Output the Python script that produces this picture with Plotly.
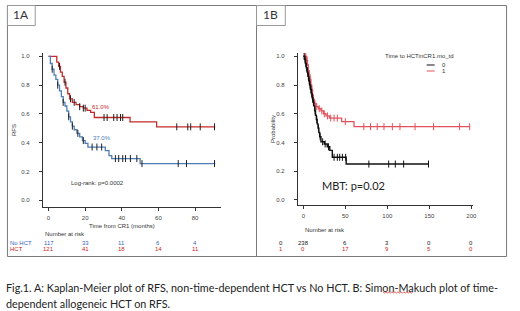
import plotly.graph_objects as go

W, H = 520, 311


def px(x):
    return x / W


def py(y):
    return 1 - y / H


# ---------------- Panel A data (Kaplan-Meier, months from CR1) ----------------
a_hct_t = [0, 4.5, 5.5, 6.5, 7.5, 8.5, 9.5, 10.5, 11.5, 13, 15, 17, 19, 21, 23, 25, 44.5, 59, 91]
a_hct_s = [1.0, 0.96, 0.93, 0.89, 0.86, 0.82, 0.78, 0.74, 0.705, 0.68, 0.665, 0.65, 0.64, 0.625, 0.61, 0.575,
           0.545, 0.51, 0.51]
a_hct_cens = [6, 9, 12, 14, 17, 19, 20, 30.3, 32, 35.6, 37.4, 39.3, 40.5, 70, 76, 77.6, 82.8, 90.6]

a_nohct_t = [0, 1, 2, 3, 4, 5, 6, 7, 8, 9, 10, 11, 12, 13, 14, 15.5, 17, 18.5, 20, 21.5, 31, 33, 34.5, 50, 91]
a_nohct_s = [1.0, 0.95, 0.91, 0.87, 0.84, 0.80, 0.76, 0.72, 0.68, 0.655, 0.62, 0.58, 0.545, 0.515, 0.49, 0.465,
             0.44, 0.415, 0.395, 0.37, 0.345, 0.31, 0.29, 0.255, 0.255]
a_nohct_cens = [2, 5, 8, 11, 13, 16, 19, 23.8, 26.4, 29, 36.5, 38.3, 40.5, 42, 44.7, 48.2, 51, 70.8, 75.3, 90.6]

a_risk_times = [0, 20, 40, 60, 80]
a_risk_nohct = [117, 33, 11, 6, 4]
a_risk_hct = [121, 41, 18, 14, 11]
a_xticks = [0, 20, 40, 60, 80]

# ---------------- Panel B data (Simon-Makuch) ----------------
b0_t = [0, 1.5, 2.5, 3.5, 4.5, 5.5, 6.5, 7.5, 8.5, 9.5, 10.5, 11.5, 12.5, 13.5, 14.5, 15.5, 16.5, 17.5, 18.5,
        19.5, 21, 25, 28.5, 31.5, 34.5, 51, 149]
b0_s = [1.0, 0.98, 0.95, 0.92, 0.89, 0.86, 0.83, 0.80, 0.77, 0.74, 0.71, 0.68, 0.655, 0.62, 0.59, 0.56, 0.53,
        0.50, 0.47, 0.44, 0.405, 0.39, 0.37, 0.345, 0.297, 0.25, 0.25]
b0_cens = [1, 2, 3, 4, 5, 6, 7, 8, 9, 10, 11, 12, 14, 16, 18, 20, 23, 26, 30, 36.6, 40.5, 43.3, 46.5, 50.4,
           78, 101.6, 109.5, 119.4, 149]

b1_t = [0, 4, 5, 6, 7, 8, 9, 10, 11, 12, 13, 15, 18, 21, 24, 27, 31, 45.6, 60.3, 198]
b1_s = [1.0, 0.97, 0.94, 0.90, 0.87, 0.84, 0.80, 0.77, 0.73, 0.70, 0.67, 0.65, 0.635, 0.62, 0.60, 0.585, 0.57,
        0.545, 0.51, 0.51]
b1_cens = [2, 3, 4.5, 6, 8, 10, 12, 14, 16, 19, 22, 25, 28.7, 32.6, 36.6, 40.5, 50, 72, 80, 88, 96, 106, 115,
           133, 155, 186, 198]

b_risk_times = [0, 50, 100, 150, 200]
b_risk_0 = [238, 6, 3, 0, 0]
b_risk_1 = [0, 17, 9, 5, 0]
b_xticks = [0, 50, 100, 150, 200]

y_ticks = [0.0, 0.2, 0.4, 0.6, 0.8, 1.0]
y_ticklabels = ["0.0", "0.2", "0.4", "0.6", "0.8", "1.0"]

RED_A = "#c42a2a"
BLUE_A = "#4d7db4"
RED_B = "#e2525c"
BLACK = "#111111"
AX = "#333333"
TF = "Liberation Sans, Arial, sans-serif"
CAP = "Lato, Open Sans, sans-serif"


def step_at(ts, ss, t):
    v = ss[0]
    for ti, si in zip(ts, ss):
        if ti <= t:
            v = si
    return v


fig = go.Figure()


def add_curve(ts, ss, cens, color, width, xa, ya, mcolor):
    fig.add_trace(go.Scatter(x=ts, y=ss, mode="lines", line=dict(color=color, width=width, shape="hv"),
                             xaxis=xa, yaxis=ya, showlegend=False, hoverinfo="skip"))
    fig.add_trace(go.Scatter(x=cens, y=[step_at(ts, ss, c) for c in cens], mode="markers",
                             marker=dict(symbol="line-ns", size=5, line=dict(color=mcolor, width=1)),
                             xaxis=xa, yaxis=ya, showlegend=False, hoverinfo="skip"))


add_curve(a_hct_t, a_hct_s, a_hct_cens, RED_A, 1.3, "x", "y", "#222222")
add_curve(a_nohct_t, a_nohct_s, a_nohct_cens, BLUE_A, 1.3, "x", "y", "#222222")
add_curve(b1_t, b1_s, b1_cens, RED_B, 1.3, "x2", "y2", RED_B)
add_curve(b0_t, b0_s, b0_cens, BLACK, 1.4, "x2", "y2", BLACK)

axis_common = dict(showline=True, linecolor=AX, linewidth=1, ticks="outside", ticklen=3, tickcolor=AX,
                   tickwidth=1, showgrid=False, zeroline=False, tickfont=dict(size=6, color="#444", family=TF),
                   fixedrange=True)

fig.update_layout(
    width=W, height=H, margin=dict(l=0, r=0, t=0, b=0),
    paper_bgcolor="white", plot_bgcolor="white",
    xaxis=dict(domain=[px(43), px(223)], range=[-3.2, 94.3], anchor="y", tickvals=a_xticks,
               ticklabelstandoff=2, **axis_common),
    yaxis=dict(domain=[py(207), py(53)], range=[-0.0465, 1.023], anchor="x", tickvals=y_ticks,
               ticktext=y_ticklabels, ticklabelstandoff=8,
               title=dict(text="RFS", font=dict(size=6, color="#333", family=TF), standoff=4),
               **axis_common),
    xaxis2=dict(domain=[px(300), px(476.7)], range=[-6.7, 202], anchor="y2", tickvals=b_xticks,
                ticklabelstandoff=2, **axis_common),
    yaxis2=dict(domain=[py(205), py(53)], range=[-0.035, 1.023], anchor="x2", tickvals=y_ticks,
                ticktext=y_ticklabels, ticklabelstandoff=8,
                title=dict(text="Probability", font=dict(size=6, color="#333", family=TF), standoff=0),
                **axis_common),
)

ann = []


def txt(text, x, y, size=6, color="#333", xanchor="center", family=TF, xref="paper"):
    ann.append(dict(text=text, x=x if xref != "paper" else px(x), y=py(y), xref=xref, yref="paper",
                    showarrow=False, xanchor=xanchor, yanchor="middle",
                    font=dict(size=size, color=color, family=family)))


# Panel A texts
txt("Time from CR1 (months)", 123, 226)
txt("Number at risk", 43, 234, xanchor="left")
txt("No HCT", 8, 243.5, color="#3d5fc0", xanchor="left")
txt("HCT", 8, 248.5, color="#d02424", xanchor="left")
for t, n in zip(a_risk_times, a_risk_nohct):
    txt(str(n), t, 243.5, color="#3d5fc0", xref="x")
for t, n in zip(a_risk_times, a_risk_hct):
    txt(str(n), t, 248.5, color="#d02424", xref="x")
txt("61.0%", 102, 107, color=RED_A)
txt("37.0%", 103, 138, color=BLUE_A)
txt("Log-rank: p=0.0002", 98, 183)

# Panel B texts
txt("Time to HCTinCR1.mo_td", 423, 56)
txt("0", 447, 65)
txt("1", 447, 71)
txt("MBT: p=0.02", 356, 185, size=11, color="#222", family=CAP)
txt("Number at risk", 305, 230, xanchor="left")
txt("0", 283, 243.5, color="#222")
txt("1", 283, 248.5, color="#d02424")
for t, n in zip(b_risk_times, b_risk_0):
    txt(str(n), t, 243.5, color="#222", xref="x2")
for t, n in zip(b_risk_times, b_risk_1):
    txt(str(n), t, 248.5, color="#d02424", xref="x2")

# Panel labels
txt("1A", 21, 15, size=12, color="#333", family=CAP)
txt("1B", 273, 15, size=12, color="#333", family=CAP)

# Caption
txt("Fig.1. A: Kaplan-Meier plot of RFS, non-time-dependent HCT vs No HCT. B: Simon-Makuch plot of time-",
    4, 287, size=10.8, color="#222", xanchor="left", family=CAP)
txt("dependent allogeneic HCT on RFS.", 4, 303, size=10.8, color="#222", xanchor="left", family=CAP)

fig.update_layout(annotations=ann)

shapes = []


def rect(x0, y0, x1, y1, color="#7a7a7a"):
    shapes.append(dict(type="rect", xref="paper", yref="paper", x0=px(x0), x1=px(x1), y0=py(y1), y1=py(y0),
                       line=dict(color=color, width=1), fillcolor="rgba(0,0,0,0)"))


def hline(x0, x1, y, color):
    shapes.append(dict(type="line", xref="paper", yref="paper", x0=px(x0), x1=px(x1), y0=py(y), y1=py(y),
                       line=dict(color=color, width=1)))


rect(7.5, 5.5, 258.5, 256.5)
rect(258.5, 5.5, 510.5, 256.5)
rect(7.5, 5.5, 35.5, 25.5, "#999999")
rect(258.5, 5.5, 287.5, 25.5, "#999999")
hline(430, 438, 65, BLACK)
hline(430, 438, 71, RED_B)

# spell-check squiggle under "Makuch" in the caption
sq = "M" + " L".join(f"{px(386 + 1.5 * i):.5f},{py(292.5 + (0.8 if i % 2 else -0.8)):.5f}" for i in range(21))
shapes.append(dict(type="path", xref="paper", yref="paper", path=sq, line=dict(color="#e04040", width=0.8)))

fig.update_layout(shapes=shapes)

fig.write_html("out.html", config={"displayModeBar": False},
               post_script="document.body.style.margin='0px';document.body.style.overflow='hidden';")
